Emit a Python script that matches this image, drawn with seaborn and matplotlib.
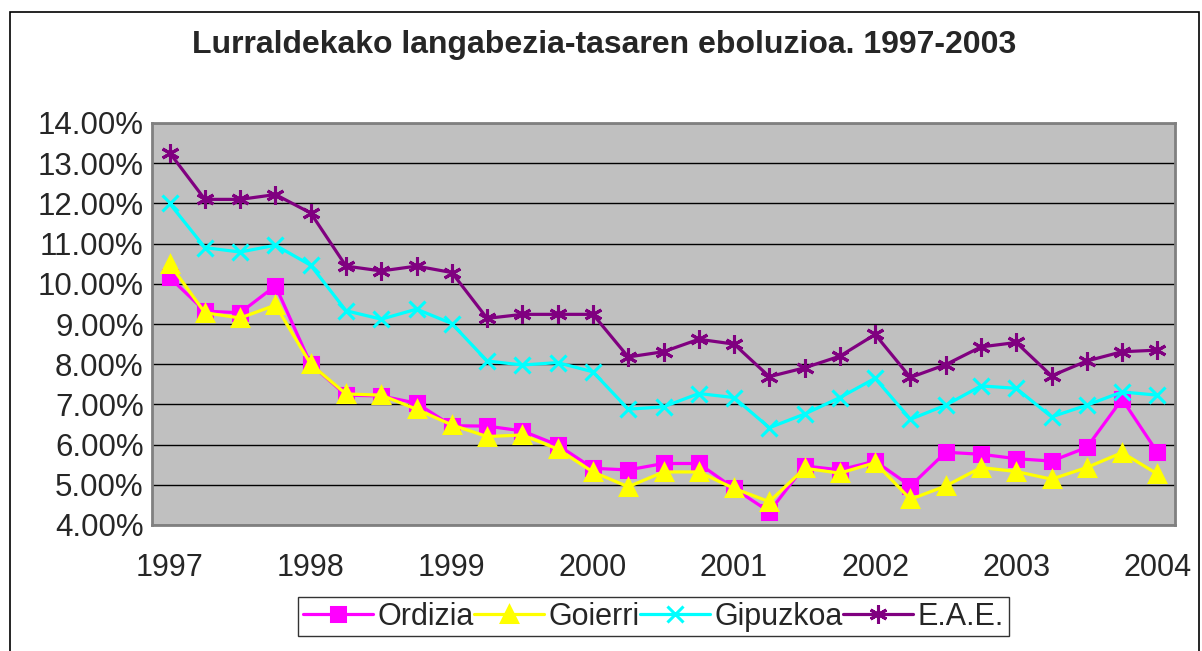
import numpy as np
import pandas as pd
import matplotlib
matplotlib.use("Agg")
import matplotlib.pyplot as plt
import matplotlib.patches as patches
from matplotlib.ticker import FixedLocator, FuncFormatter
import seaborn as sns

sns.set_style("white")
plt.rcParams['font.family'] = ['Liberation Sans', 'DejaVu Sans']

# hiruhilekoak 1997-2004 (29 puntu)
years = ["1997", "1998", "1999", "2000", "2001", "2002", "2003", "2004"]
quarter = np.arange(29)

ordizia = [10.16, 9.32, 9.28, 9.95, 8.00, 7.23, 7.21, 7.03, 6.47, 6.46, 6.34, 5.99, 5.41, 5.37,
           5.53, 5.53, 4.91, 4.33, 5.47, 5.37, 5.59, 4.97, 5.81, 5.76, 5.65, 5.59, 5.93, 7.13, 5.81]
goierri = [10.49, 9.28, 9.15, 9.47, 8.00, 7.26, 7.23, 6.88, 6.49, 6.20, 6.24, 5.89, 5.32, 4.95,
           5.32, 5.32, 4.91, 4.58, 5.41, 5.29, 5.55, 4.64, 4.97, 5.43, 5.33, 5.14, 5.43, 5.80, 5.27]
gipuzkoa = [12.00, 10.90, 10.79, 10.96, 10.46, 9.33, 9.12, 9.37, 9.01, 8.08, 7.98, 8.04, 7.81, 6.88,
            6.94, 7.27, 7.17, 6.42, 6.76, 7.17, 7.65, 6.63, 6.98, 7.46, 7.40, 6.69, 6.98, 7.31, 7.23]
eae = [13.26, 12.10, 12.10, 12.22, 11.76, 10.44, 10.32, 10.44, 10.28, 9.14, 9.24, 9.24, 9.24, 8.18,
       8.31, 8.62, 8.50, 7.69, 7.91, 8.20, 8.74, 7.67, 7.99, 8.43, 8.54, 7.71, 8.08, 8.31, 8.35]

series = [
    ("Ordizia", ordizia, "#FF00FF", "s", 10),
    ("Goierri", goierri, "#FFFF00", "^", 12),
    ("Gipuzkoa", gipuzkoa, "#00FFFF", "x", 11),
    ("E.A.E.", eae, "#800080", (6, 2, 0), 13),
]

fig = plt.figure(figsize=(12.02, 6.51), dpi=100)
ax = fig.add_axes([152 / 1202, 1 - 525 / 651, (1175 - 152) / 1202, (525 - 123) / 651])
ax.set_facecolor("#C0C0C0")

for name, vals, col, mk, ms in series:
    df = pd.DataFrame({"x": quarter, "y": vals})
    sns.lineplot(data=df, x="x", y="y", ax=ax, color=col, linewidth=2.3, marker=mk,
                 markersize=ms, markeredgecolor=col, markerfacecolor=col,
                 markeredgewidth=2.2, label=name, zorder=3)

ax.set_xlim(-0.5, 28.5)
ax.set_ylim(4, 14)
ax.set_yticks(np.arange(4, 15, 1))
ax.yaxis.set_major_formatter(FuncFormatter(lambda v, p: f"{v:.2f}%"))
ax.set_xticks(np.arange(0, 29, 4))
ax.set_xticklabels(years)
ax.xaxis.set_minor_locator(FixedLocator(np.arange(-0.5, 29, 1)))
ax.tick_params(axis="x", which="major", length=0, pad=20, labelsize=22)
ax.tick_params(axis="x", which="minor", length=6, width=1, color="black", direction="out")
ax.tick_params(axis="y", length=5, width=1, color="black", direction="out", pad=1, labelsize=22.5)
ax.set_xlabel("")
ax.set_ylabel("")
ax.grid(axis="y", color="black", linewidth=1)
ax.set_axisbelow(True)
for s in ax.spines.values():
    s.set_color("#808080")
    s.set_linewidth(2)

fig.text(604 / 1202, 1 - 45 / 651, "Lurraldekako langabezia-tasaren eboluzioa. 1997-2003",
         ha="center", va="center", fontsize=23, fontweight="bold")

ax.get_legend().remove()
h, l = ax.get_legend_handles_labels()
leg = fig.legend(h, l, loc="upper left", bbox_to_anchor=(298 / 1202, 1 - 597 / 651), ncol=4,
                 frameon=True, fancybox=False, fontsize=22, handlelength=2.3,
                 handletextpad=0.15, columnspacing=0.0, borderpad=0.15, borderaxespad=0)
leg.get_frame().set_edgecolor("black")
leg.get_frame().set_linewidth(1)

fig.patches.append(patches.Rectangle((10 / 1202, -0.05), (1199 - 10) / 1202, 0.05 + 1 - 12 / 651,
                                     transform=fig.transFigure, fill=False, edgecolor="black",
                                     linewidth=1.2))

fig.savefig("out.png", dpi=100)
